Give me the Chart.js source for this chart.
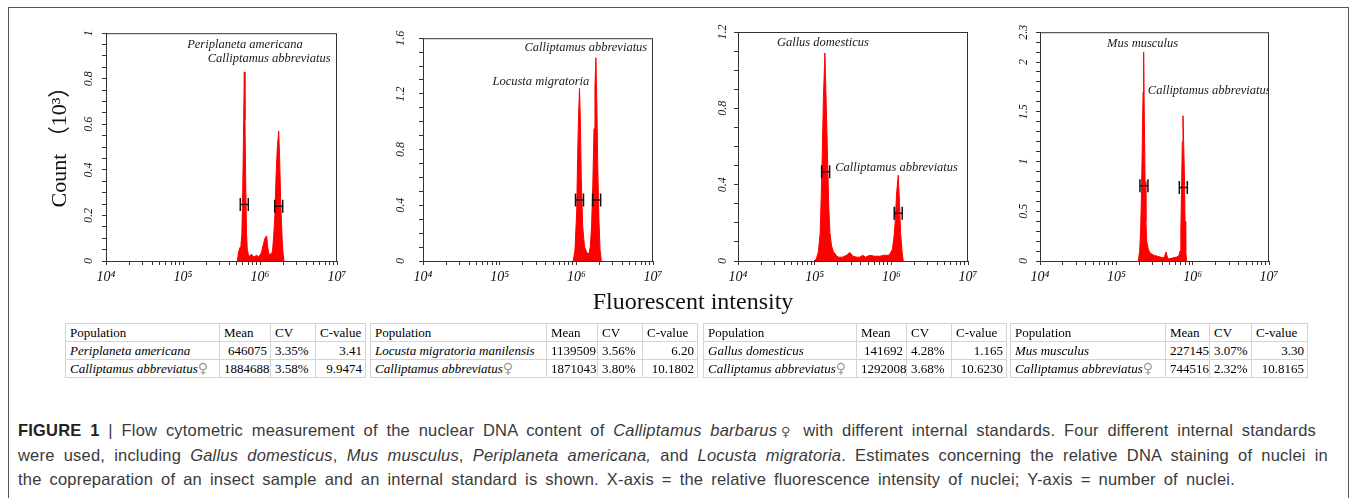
<!DOCTYPE html>
<html>
<head>
<meta charset="utf-8">
<script src="https://cdn.jsdelivr.net/npm/chart.js@4.4.0/dist/chart.umd.min.js"></script>
<style>
  body { margin: 0; width: 1357px; height: 498px; background: #fff; position: relative; overflow: hidden; font-family: 'Liberation Serif', serif; }
  .frame { position: absolute; left: 8px; top: 7px; width: 1339px; height: 600px; border: 1px solid #555; }
  .panel { position: absolute; top: 20px; height: 275px; }
  .xtitle { position: absolute; left: 493px; top: 289px; width: 400px; text-align: center; font: 24px/24px 'Liberation Serif', serif; color: #111; }
  table.stat { position: absolute; top: 323px; border-collapse: collapse; table-layout: fixed; font: 13px 'Liberation Serif', serif; color: #000; }
  table.stat td { border: 1px solid #d4d4d4; height: 17px; line-height: 17px; padding: 0 3px 0 4px; white-space: nowrap; overflow: hidden; }
  table.stat td.n { text-align: right; }
  table.stat .sp { font-style: italic; }
  table.stat .fem { color: #999; font: 14px 'DejaVu Sans', sans-serif; }
  .cap { position: absolute; left: 18px; height: 24px; font: 16.5px/24px 'Liberation Sans', Arial, sans-serif; letter-spacing: 0.2px; color: #3a3a3a; text-align: justify; text-align-last: justify; }
  .cap b { color: #222; }
  .cap .fem { font: 13px 'DejaVu Sans', sans-serif; color: #555; letter-spacing: 0; }
</style>
</head>
<body>
<div class="frame"></div>

<div class="panel" style="left:40px;width:311px"><canvas id="c1" width="311" height="275"></canvas></div>
<div class="panel" style="left:373px;width:294px"><canvas id="c2" width="294" height="275"></canvas></div>
<div class="panel" style="left:688px;width:294px"><canvas id="c3" width="294" height="275"></canvas></div>
<div class="panel" style="left:990px;width:293px"><canvas id="c4" width="293" height="275"></canvas></div>

<div class="xtitle">Fluorescent intensity</div>

<table class="stat" style="left:65px;width:300px">
  <colgroup><col style="width:154px"><col style="width:51px"><col style="width:45px"><col style="width:50px"></colgroup>
  <tr><td>Population</td><td>Mean</td><td>CV</td><td>C-value</td></tr>
  <tr><td class="sp">Periplaneta americana</td><td class="n">646075</td><td>3.35%</td><td class="n">3.41</td></tr>
  <tr><td><span class="sp">Calliptamus abbreviatus</span><span class="fem">♀</span></td><td class="n">1884688</td><td>3.58%</td><td class="n">9.9474</td></tr>
</table>
<table class="stat" style="left:370px;width:327px">
  <colgroup><col style="width:176px"><col style="width:51px"><col style="width:45px"><col style="width:55px"></colgroup>
  <tr><td>Population</td><td>Mean</td><td>CV</td><td>C-value</td></tr>
  <tr><td class="sp">Locusta migratoria manilensis</td><td class="n">1139509</td><td>3.56%</td><td class="n">6.20</td></tr>
  <tr><td><span class="sp">Calliptamus abbreviatus</span><span class="fem">♀</span></td><td class="n">1871043</td><td>3.80%</td><td class="n">10.1802</td></tr>
</table>
<table class="stat" style="left:703px;width:303px">
  <colgroup><col style="width:153px"><col style="width:50px"><col style="width:45px"><col style="width:55px"></colgroup>
  <tr><td>Population</td><td>Mean</td><td>CV</td><td>C-value</td></tr>
  <tr><td class="sp">Gallus domesticus</td><td class="n">141692</td><td>4.28%</td><td class="n">1.165</td></tr>
  <tr><td><span class="sp">Calliptamus abbreviatus</span><span class="fem">♀</span></td><td class="n">1292008</td><td>3.68%</td><td class="n">10.6230</td></tr>
</table>
<table class="stat" style="left:1010px;width:297px">
  <colgroup><col style="width:155px"><col style="width:44px"><col style="width:42px"><col style="width:56px"></colgroup>
  <tr><td>Population</td><td>Mean</td><td>CV</td><td>C-value</td></tr>
  <tr><td class="sp">Mus musculus</td><td class="n">227145</td><td>3.07%</td><td class="n">3.30</td></tr>
  <tr><td><span class="sp">Calliptamus abbreviatus</span><span class="fem">♀</span></td><td class="n">744516</td><td>2.32%</td><td class="n">10.8165</td></tr>
</table>

<div class="cap" style="top:418px;width:1298px"><b>FIGURE 1</b> | Flow cytometric measurement of the nuclear DNA content of <i>Calliptamus barbarus</i><span class="fem">♀</span> with different internal standards. Four different internal standards</div>
<div class="cap" style="top:443px;width:1310px">were used, including <i>Gallus domesticus</i>, <i>Mus musculus</i>, <i>Periplaneta americana,</i> and <i>Locusta migratoria</i>. Estimates concerning the relative DNA staining of nuclei in</div>
<div class="cap" style="top:467px;width:1217px">the copreparation of an insect sample and an internal standard is shown. X-axis = the relative fluorescence intensity of nuclei; Y-axis = number of nuclei.</div>

<script>
// histogram outlines, intensity (x) and count in 10^3 (y)
const p1X = [5.07e5, 5.28e5, 5.50e5, 5.66e5, 5.82e5, 5.96e5, 6.10e5, 6.25e5, 6.38e5, 6.52e5, 6.68e5, 6.84e5, 7.05e5, 7.26e5, 7.7e5, 8.19e5, 8.6e5, 9.0e5, 9.5e5, 1.00e6, 1.05e6, 1.10e6, 1.16e6, 1.22e6, 1.26e6, 1.30e6, 1.38e6, 1.45e6, 1.50e6, 1.56e6, 1.62e6, 1.68e6, 1.75e6, 1.80e6, 1.86e6, 1.95e6, 2.00e6, 2.05e6];
const p1Y = [0, 0.04, 0.06, 0.07, 0.12, 0.3, 0.55, 0.83, 0.62, 0.35, 0.12, 0.05, 0.03, 0.02, 0.03, 0.02, 0.02, 0.025, 0.02, 0.025, 0.04, 0.07, 0.1, 0.11, 0.06, 0.03, 0.03, 0.04, 0.1, 0.2, 0.38, 0.5, 0.57, 0.45, 0.25, 0.08, 0.03, 0];

const p2X = [9.1e5, 9.6e5, 1.01e6, 1.04e6, 1.07e6, 1.10e6, 1.13e6, 1.16e6, 1.21e6, 1.28e6, 1.35e6, 1.41e6, 1.47e6, 1.52e6, 1.58e6, 1.64e6, 1.70e6, 1.75e6, 1.80e6, 1.85e6, 1.90e6, 1.97e6, 2.04e6, 2.12e6];
const p2Y = [0, 0.08, 0.35, 0.75, 1.05, 1.24, 1.0, 0.6, 0.25, 0.1, 0.07, 0.05, 0.06, 0.1, 0.25, 0.55, 0.95, 1.25, 1.46, 1.15, 0.7, 0.3, 0.08, 0];

const p3X = [9.8e4, 1.05e5, 1.12e5, 1.18e5, 1.24e5, 1.30e5, 1.36e5, 1.42e5, 1.48e5, 1.53e5, 1.58e5, 1.66e5, 1.75e5, 1.9e5, 2.04e5, 2.3e5, 2.6e5, 2.89e5, 3.15e5, 3.53e5, 3.9e5, 4.23e5, 4.6e5, 5.27e5, 6.0e5, 7.11e5, 8.0e5, 9.15e5, 9.7e5, 1.03e6, 1.08e6, 1.12e6, 1.17e6, 1.23e6, 1.28e6, 1.32e6, 1.38e6, 1.43e6];
const p3Y = [0, 0.01, 0.05, 0.15, 0.45, 0.85, 1.09, 0.8, 0.5, 0.28, 0.15, 0.08, 0.05, 0.03, 0.02, 0.02, 0.03, 0.045, 0.025, 0.02, 0.02, 0.03, 0.02, 0.03, 0.025, 0.025, 0.03, 0.03, 0.04, 0.06, 0.12, 0.2, 0.35, 0.45, 0.3, 0.15, 0.05, 0];

const p4X = [1.94e5, 2.02e5, 2.08e5, 2.14e5, 2.19e5, 2.24e5, 2.28e5, 2.33e5, 2.38e5, 2.44e5, 2.50e5, 2.62e5, 2.76e5, 3.05e5, 3.38e5, 3.75e5, 4.13e5, 4.3e5, 4.48e5, 4.62e5, 4.80e5, 5.4e5, 6.18e5, 6.6e5, 6.83e5, 7.0e5, 7.18e5, 7.32e5, 7.47e5, 7.62e5, 7.78e5, 7.95e5, 8.11e5, 8.35e5];
const p4Y = [0, 0.1, 0.3, 0.7, 1.2, 1.7, 2.1, 1.4, 0.8, 0.4, 0.2, 0.12, 0.08, 0.06, 0.05, 0.04, 0.03, 0.05, 0.09, 0.05, 0.02, 0.03, 0.04, 0.05, 0.1, 0.3, 0.8, 1.2, 1.46, 1.2, 0.9, 0.4, 0.1, 0];

// gate markers (H) on each peak
const p1MarkX = [6.25e5, 1.75e6], p1MarkY = [0.248, 0.24];
const p2MarkX = [1.10e6, 1.84e6], p2MarkY = [0.438, 0.438];
const p3MarkX = [1.39e5, 1.23e6], p3MarkY = [0.468, 0.25];
const p4MarkX = [2.30e5, 7.54e5], p4MarkY = [0.756, 0.74];

// axis ticks
const xMajorTicks = [1e4, 1e5, 1e6, 1e7];
const p1YTicks = [0, 0.2, 0.4, 0.6, 0.8, 1];
const p2YTicks = [0, 0.4, 0.8, 1.2, 1.6];
const p3YTicks = [0, 0.4, 0.8, 1.2];
const p4YTicks = [0, 0.5, 1, 1.5, 2, 2.3];

// peak names
const p1Notes = [{ text: 'Periplaneta americana', x: 6.38e5, y: 0.951 }, { text: 'Calliptamus abbreviatus', x: 1.315e6, y: 0.888 }];
const p2Notes = [{ text: 'Calliptamus abbreviatus', x: 1.33e6, y: 1.532 }, { text: 'Locusta migratoria', x: 3.45e5, y: 1.288 }];
const p3Notes = [{ text: 'Gallus domesticus', x: 1.28e5, y: 1.144 }, { text: 'Calliptamus abbreviatus', x: 1.17e6, y: 0.491 }];
const p4Notes = [{ text: 'Mus musculus', x: 2.21e5, y: 2.187 }, { text: 'Calliptamus abbreviatus', x: 1.65e6, y: 1.71 }];

Chart.defaults.font.family = "'Liberation Serif', 'Times New Roman', serif";
Chart.defaults.color = '#111';
Chart.defaults.animation = false;

const sup = { 4: '\u2074', 5: '\u2075', 6: '\u2076', 7: '\u2077' };

// log minor ticks 2..9 x 10^n
const xAllTicks = [];
for (let e = 4; e <= 6; e++) {
    for (let m = 1; m <= 9; m++) xAllTicks.push(m * Math.pow(10, e));
}
xAllTicks.push(1e7);

// box around plot, H markers and peak names
const panelDecor = {
    id: 'panelDecor',
    afterDatasetsDraw(chart, args, opts) {
        const { ctx, chartArea: a } = chart;
        const xs = chart.scales.x, ys = chart.scales.y;
        ctx.save();
        ctx.strokeStyle = '#333';
        ctx.lineWidth = 1;
        ctx.strokeRect(a.left + 0.5, a.top + 0.5, a.right - a.left - 1, a.bottom - a.top);

        ctx.strokeStyle = '#111';
        ctx.lineWidth = 1.5;
        opts.markX.forEach((v, i) => {
            const px = xs.getPixelForValue(v);
            const py = ys.getPixelForValue(opts.markY[i]);
            ctx.beginPath();
            ctx.moveTo(px - 4, py - 6.5); ctx.lineTo(px - 4, py + 6.5);
            ctx.moveTo(px + 4, py - 6.5); ctx.lineTo(px + 4, py + 6.5);
            ctx.moveTo(px - 4, py); ctx.lineTo(px + 4, py);
            ctx.stroke();
        });

        ctx.beginPath();
        ctx.rect(a.left, a.top, a.right - a.left, a.bottom - a.top);
        ctx.clip();
        ctx.fillStyle = '#1a1a1a';
        ctx.font = "italic 12.5px 'Liberation Serif', serif";
        ctx.textAlign = 'center';
        ctx.textBaseline = 'middle';
        opts.notes.forEach(n => {
            ctx.fillText(n.text, xs.getPixelForValue(n.x), ys.getPixelForValue(n.y));
        });
        ctx.restore();
    }
};

function makePanel(id, xs, ys, yMax, yMajors, yStep, markX, markY, notes, yWidth, yPad, showTitle) {
    const yAll = [];
    for (let i = 0; i * yStep <= yMax + 1e-9; i++) yAll.push(Math.round(i * yStep * 1000) / 1000);
    yMajors.forEach(v => { if (!yAll.some(t => Math.abs(t - v) < 1e-9)) yAll.push(v); });

    return new Chart(document.getElementById(id), {
        type: 'scatter',
        data: {
            datasets: [{
                data: xs.map((x, i) => ({ x: x, y: ys[i] })),
                showLine: true,
                borderColor: '#ff0000',
                backgroundColor: '#ff0000',
                borderWidth: 1,
                pointRadius: 0,
                fill: 'origin',
                tension: 0
            }]
        },
        options: {
            responsive: false,
            layout: { padding: { top: 12, right: 14, bottom: 4, left: 0 } },
            plugins: {
                legend: { display: false },
                tooltip: { enabled: false },
                panelDecor: { markX: markX, markY: markY, notes: notes }
            },
            scales: {
                x: {
                    type: 'logarithmic',
                    min: 1e4,
                    max: 1e7,
                    afterBuildTicks: s => { s.ticks = xAllTicks.map(v => ({ value: v })); },
                    afterFit: s => { s.height = 30; },
                    grid: { drawOnChartArea: false, tickLength: 4, tickColor: '#333' },
                    border: { color: '#333' },
                    ticks: {
                        autoSkip: false,
                        maxRotation: 0,
                        padding: 4,
                        font: { style: 'italic', size: 14 },
                        callback: v => xMajorTicks.includes(v) ? '10' + sup[Math.round(Math.log10(v))] : ''
                    }
                },
                y: {
                    type: 'linear',
                    min: 0,
                    max: yMax,
                    afterBuildTicks: s => { s.ticks = yAll.map(v => ({ value: v })); },
                    afterFit: s => { s.width = yWidth; },
                    grid: { drawOnChartArea: false, tickLength: 4, tickColor: '#333' },
                    border: { color: '#333' },
                    title: {
                        display: showTitle,
                        text: '\u2002Count \uFF0810\u00B3\uFF09',
                        font: { size: 22, family: "'Liberation Serif', 'Noto Sans CJK SC', serif" },
                        padding: { top: 7, bottom: 0 }
                    },
                    ticks: {
                        autoSkip: false,
                        minRotation: 90,
                        maxRotation: 90,
                        crossAlign: 'center',
                        padding: yPad,
                        font: { style: 'italic', size: 12 },
                        callback: v => yMajors.some(t => Math.abs(t - v) < 1e-9) ? String(v) : ''
                    }
                }
            }
        },
        plugins: [panelDecor]
    });
}

makePanel('c1', p1X, p1Y, 1, p1YTicks, 0.05, p1MarkX, p1MarkY, p1Notes, 66, 6, true);
makePanel('c2', p2X, p2Y, 1.6, p2YTicks, 0.1, p2MarkX, p2MarkY, p2Notes, 50, 11, false);
makePanel('c3', p3X, p3Y, 1.2, p3YTicks, 0.1, p3MarkX, p3MarkY, p3Notes, 50, 4, false);
makePanel('c4', p4X, p4Y, 2.3, p4YTicks, 0.1, p4MarkX, p4MarkY, p4Notes, 50, 5, false);
</script>
</body>
</html>
